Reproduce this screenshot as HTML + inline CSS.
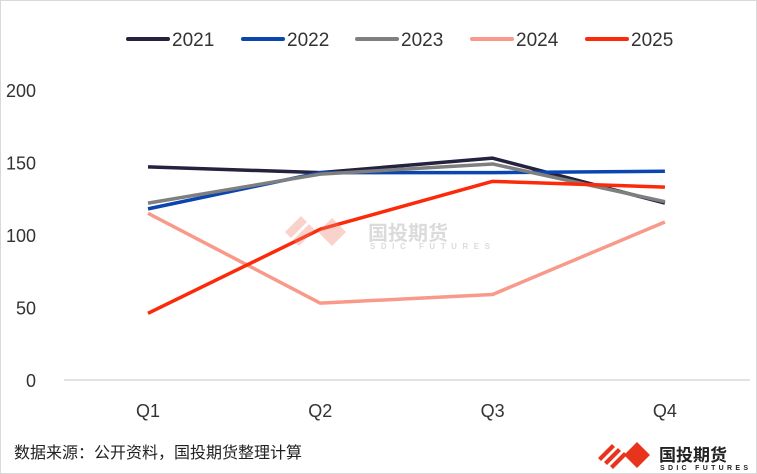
<!DOCTYPE html>
<html><head><meta charset="utf-8"><style>
html,body{margin:0;padding:0;background:#fff}
svg{display:block}
text{font-family:"Liberation Sans","Noto Sans CJK SC",sans-serif}
</style></head><body>
<svg id="chart" width="757" height="474">
<rect x="0.5" y="0.5" width="756" height="473" fill="#fff" stroke="#d9d9d9"/>
<g id="grid"></g><g id="series"></g><g id="legend"></g>
<text x="14" y="458" font-size="16" fill="#222">数据来源：公开资料，国投期货整理计算</text>
<g opacity="0.35">
<path d="M285 232 l16 -16 l6 6 l-16 16z M293 240 l16 -16 l6 6 l-16 16z" fill="#f08070"/>
<path d="M318 232 l14 -14 l14 14 l-14 14z" fill="#f08070"/>
<text x="368" y="240" font-size="20" font-weight="bold" fill="#999">国投期货</text>
<text x="370" y="249" font-size="8" font-weight="bold" fill="#999" textLength="120">SDIC FUTURES</text>
</g>
<g>
<path d="M598 458 l14 -14 l3 3 l-14 14z M604 462 l14 -14 l3 3 l-14 14z M610 466 l14 -14 l3 3 l-14 14z" fill="#e8341c"/>
<path d="M624 455 l13 -13 l13 13 l-13 13z" fill="#e8341c"/>
<text x="659" y="461" font-size="17" font-weight="bold" fill="#222">国投期货</text>
<text x="660" y="470" font-size="7" font-weight="bold" fill="#222" textLength="88">SDIC FUTURES</text>
</g>
</svg>
<script>
const categories=["Q1","Q2","Q3","Q4"];
const seriesNames=["2021","2022","2023","2024","2025"];
const s2021=[147,143,153,122];
const s2022=[118,143,143,144];
const s2023=[122,142,149,123];
const s2024=[115,53,59,109];
const s2025=[46,104,137,133];
const yTicks=[0,50,100,150,200];
const colors=["#24223e","#0a45b0","#7f7f7f","#f8998a","#fa2a0a"];
const allSeries=[s2021,s2022,s2023,s2024,s2025];
const NS="http://www.w3.org/2000/svg";
function y(v){return 380-v*(290/200);}
function x(i){return 148+i*172.3;}
function mk(t,a,p){const e=document.createElementNS(NS,t);for(const k in a)e.setAttribute(k,a[k]);p.appendChild(e);return e;}
const grid=document.getElementById('grid');
const axis=mk('line',{x1:64,x2:750,y1:380,y2:380,stroke:'#d9d9d9','stroke-width':1.5},grid);


yTicks.forEach(v=>{const t=mk('text',{x:36,y:y(v)+7,'font-size':18,'text-anchor':'end',fill:'#333'},grid);t.textContent=v;

});
categories.forEach((c,i)=>{const t=mk('text',{x:x(i),y:417,'font-size':18,'text-anchor':'middle',fill:'#333'},grid);t.textContent=c;

});
const sg=document.getElementById('series');
allSeries.forEach((s,k)=>{const p=mk('polyline',{points:s.map((v,i)=>x(i)+','+y(v)).join(' '),fill:'none',stroke:colors[k],'stroke-width':3.5,'stroke-linejoin':'round'},sg);

});
const lg=document.getElementById('legend');
const lx=[128,243,357,472,587];
seriesNames.forEach((n,k)=>{const g=mk('g',{},lg);


mk('line',{x1:lx[k],x2:lx[k]+40,y1:39,y2:39,stroke:colors[k],'stroke-width':4,'stroke-linecap':'round'},g);
const t=mk('text',{x:lx[k]+44,y:46,'font-size':19,fill:'#333'},g);t.textContent=n;});
</script>
</body></html>
